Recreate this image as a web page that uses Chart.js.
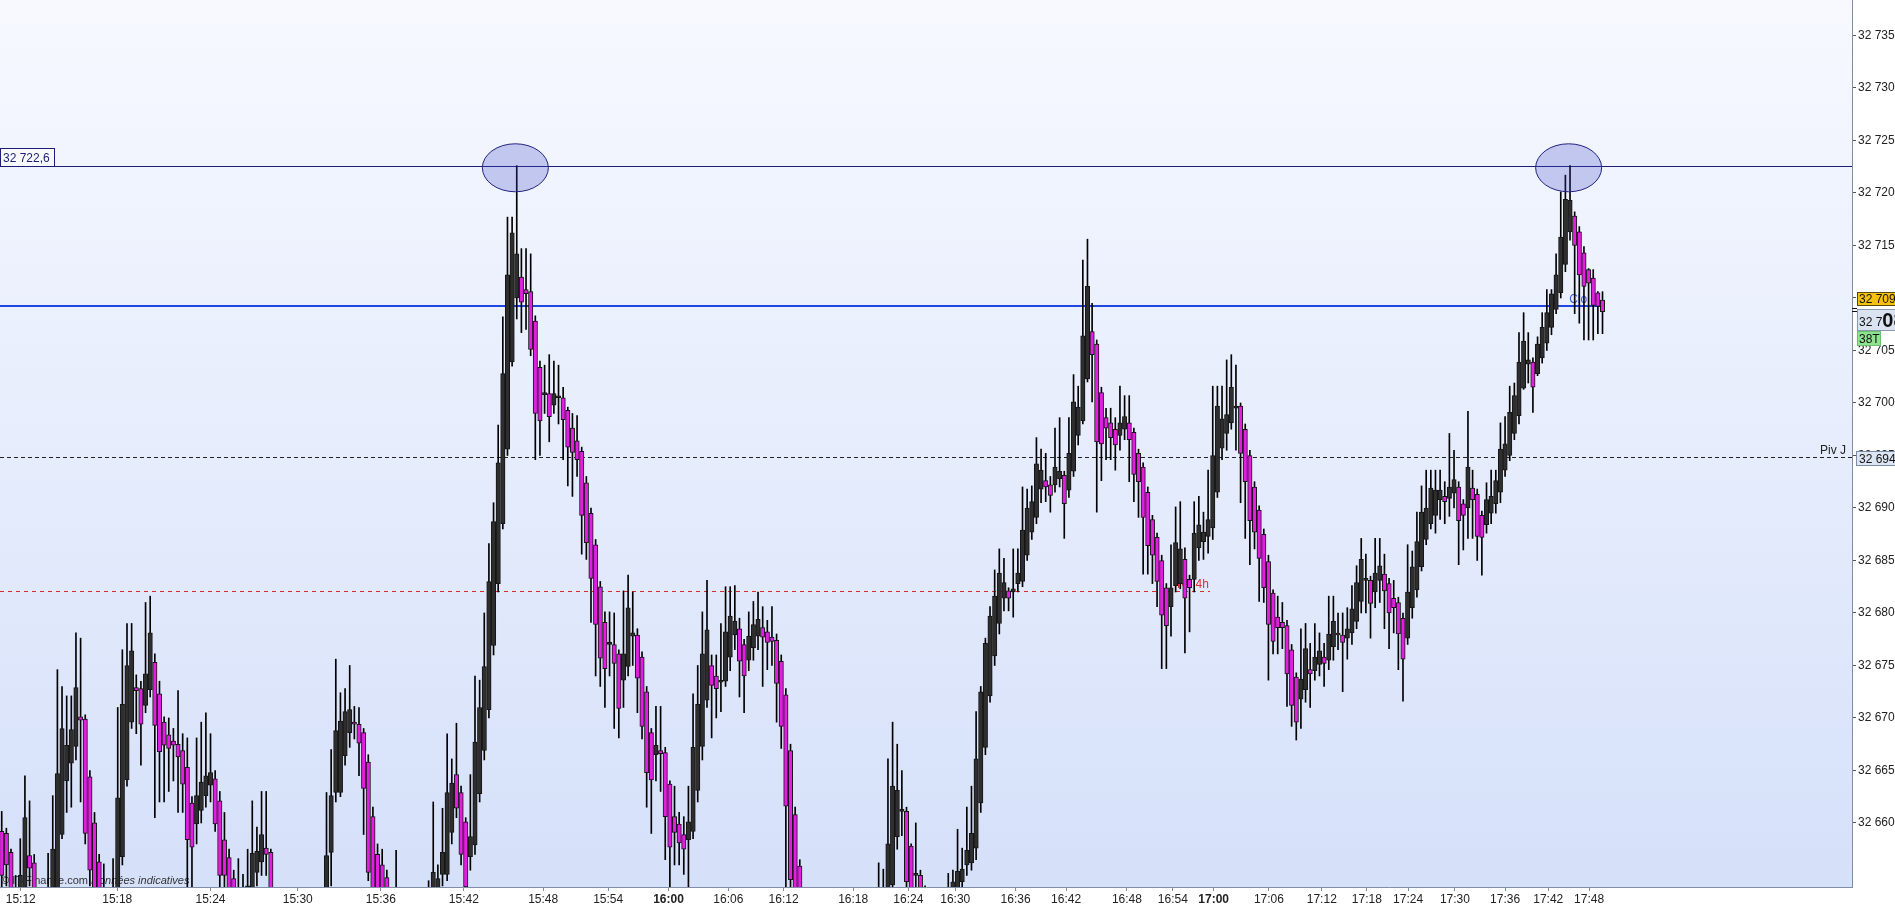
<!DOCTYPE html>
<html>
<head>
<meta charset="utf-8">
<script src="https://cdn.jsdelivr.net/npm/chart.js@4.4.1/dist/chart.umd.min.js"></script>
<style>
  html, body { margin: 0; padding: 0; background: #fff; }
  #wrap { width: 1895px; height: 906px; }
</style>
</head>
<body>
<div id="wrap"><canvas id="myChart" width="1895" height="906"></canvas></div>
<script>
// tick bars (38T), one value per bar
const opens = [
  32659.2, 32659.0, 32657.2, 32651.0, 32652.0, 32652.0, 32656.9, 32656.2, 32652.0, 32650.0,
  32650.0, 32651.0, 32653.6, 32658.9, 32664.0, 32665.7, 32667.3, 32670.1, 32669.9, 32664.4,
  32660.0, 32656.3, 32651.0, 32650.0, 32650.0, 32652.0, 32656.8, 32664.1, 32669.6, 32672.9,
  32672.8, 32671.2, 32672.7, 32675.3, 32672.3, 32669.6, 32668.4, 32667.8, 32667.5, 32666.9,
  32665.3, 32661.9, 32659.9, 32661.2, 32662.6, 32663.6, 32664.2, 32662.1, 32658.4, 32656.7,
  32654.7, 32652.0, 32652.5, 32652.0, 32653.0, 32655.3, 32656.3, 32657.6, 32657.2, 32651.0,
  32648.0, 32646.0, 32647.5, 32645.0, 32646.5, 32644.5, 32646.0, 32648.0, 32647.0, 32649.5,
  32652.0, 32657.2, 32662.9, 32662.9, 32666.4, 32668.6, 32669.6, 32669.4, 32668.6, 32665.8,
  32660.6, 32657.0, 32656.0, 32654.8, 32652.0, 32651.0, 32651.5, 32650.5, 32649.5, 32650.5,
  32649.0, 32650.0, 32651.5, 32653.0, 32653.5, 32655.1, 32655.1, 32659.1, 32664.6, 32662.9,
  32660.1, 32656.8, 32657.9, 32662.8, 32666.9, 32670.8, 32676.9, 32682.8, 32688.5, 32695.6,
  32703.9, 32710.0, 32712.0, 32710.8, 32710.6, 32707.8, 32703.4, 32700.8, 32700.9, 32699.8,
  32700.5, 32700.5, 32699.3, 32697.6, 32696.4, 32695.4, 32692.4, 32689.5, 32686.5, 32682.5,
  32679.1, 32677.0, 32677.0, 32676.1, 32673.6, 32674.9, 32677.8, 32677.9, 32675.8, 32672.5,
  32668.6, 32666.5, 32666.9, 32666.7, 32663.7, 32660.6, 32659.9, 32658.9, 32658.4, 32659.2,
  32663.1, 32667.3, 32671.7, 32675.0, 32674.0, 32673.4, 32673.5, 32675.8, 32677.9, 32678.5,
  32677.0, 32675.5, 32676.7, 32677.8, 32678.6, 32678.2, 32677.7, 32677.4, 32675.4, 32672.2,
  32666.9, 32660.8, 32655.9, 32652.5, 32650.0, 32648.0, 32649.0, 32646.5, 32645.0, 32646.5,
  32644.0, 32645.5, 32643.5, 32645.0, 32647.0, 32646.0, 32648.0, 32649.5, 32648.5, 32652.0,
  32652.5, 32653.6, 32654.1, 32658.7, 32661.1, 32661.1, 32657.8, 32655.0, 32655.0, 32653.5,
  32651.0, 32649.5, 32650.5, 32649.0, 32653.0, 32653.0, 32653.0, 32654.4, 32656.0, 32656.2,
  32657.6, 32661.9, 32667.2, 32672.1, 32675.9, 32679.0, 32681.4, 32682.1, 32682.0, 32682.8,
  32683.0, 32685.5, 32687.7, 32689.1, 32691.8, 32692.6, 32692.2, 32692.2, 32692.8, 32693.1,
  32691.7, 32693.5, 32696.9, 32698.3, 32702.3, 32706.8, 32705.6, 32701.0, 32698.6, 32698.1,
  32697.5, 32696.9, 32697.5, 32698.1, 32697.2, 32695.2, 32693.9, 32691.5, 32688.9, 32687.2,
  32685.0, 32682.4, 32680.6, 32682.6, 32682.8, 32685.1, 32683.2, 32683.2, 32686.2, 32686.8,
  32687.3, 32688.1, 32691.5, 32695.7, 32697.1, 32698.1, 32699.5, 32699.7, 32697.5, 32695.0,
  32692.0, 32689.8, 32687.5, 32684.9, 32681.9, 32679.6, 32679.1, 32678.8, 32676.5, 32673.9,
  32671.8, 32672.7, 32674.6, 32674.5, 32675.1, 32675.8, 32675.5, 32676.8, 32678.0, 32677.9,
  32677.6, 32678.1, 32679.2, 32681.1, 32683.1, 32683.1, 32682.0, 32683.1, 32683.7, 32682.8,
  32681.4, 32681.0, 32679.5, 32677.6, 32680.5, 32682.2, 32684.4, 32687.0, 32688.5, 32689.3,
  32690.8, 32691.1, 32690.9, 32691.4, 32692.0, 32690.4, 32690.0, 32691.9, 32691.3, 32689.3,
  32688.4, 32689.5, 32690.4, 32691.5, 32693.6, 32695.0, 32697.1, 32698.8, 32701.4, 32703.7,
  32703.9, 32702.8, 32704.3, 32705.7, 32707.2, 32708.9, 32710.5, 32713.2, 32716.3, 32717.8,
  32716.3, 32714.3, 32712.7, 32711.9, 32710.5, 32709.8
];
const highs = [
  32661.1, 32659.5, 32657.5, 32655.0, 32658.5, 32664.5, 32662.1, 32657.0, 32653.0, 32652.0,
  32657.1, 32662.6, 32674.6, 32673.0, 32672.1, 32672.1, 32678.1, 32677.6, 32670.3, 32665.0,
  32661.0, 32657.0, 32656.1, 32652.0, 32656.6, 32671.0, 32676.5, 32679.0, 32679.0, 32674.1,
  32673.5, 32681.0, 32681.6, 32676.1, 32673.5, 32670.1, 32670.0, 32669.0, 32672.6, 32668.5,
  32668.1, 32662.5, 32668.1, 32669.6, 32670.5, 32668.5, 32665.0, 32663.0, 32661.0, 32657.5,
  32655.5, 32656.6, 32655.1, 32657.5, 32662.1, 32659.6, 32663.0, 32663.0, 32657.5, 32652.5,
  32649.0, 32649.0, 32648.0, 32648.0, 32647.0, 32647.5, 32649.5, 32650.0, 32651.0, 32653.0,
  32662.9, 32667.0, 32675.6, 32672.4, 32672.8, 32675.0, 32671.1, 32671.0, 32669.0, 32666.5,
  32661.5, 32658.0, 32657.5, 32655.5, 32653.0, 32657.4, 32653.0, 32652.0, 32652.0, 32651.5,
  32652.0, 32653.0, 32654.5, 32662.0, 32656.0, 32661.4, 32668.5, 32666.1, 32669.5, 32663.5,
  32660.5, 32664.6, 32674.0, 32673.6, 32680.0, 32686.6, 32690.5, 32697.9, 32708.2, 32717.7,
  32717.7, 32722.6, 32714.7, 32714.7, 32714.2, 32708.3, 32704.0, 32703.6, 32704.6, 32704.0,
  32703.6, 32701.5, 32699.6, 32699.0, 32698.8, 32695.8, 32693.0, 32690.0, 32687.0, 32683.0,
  32680.1, 32680.1, 32680.0, 32676.5, 32682.1, 32683.6, 32682.0, 32678.5, 32676.3, 32673.0,
  32669.0, 32671.1, 32671.1, 32667.2, 32664.0, 32663.5, 32661.0, 32660.6, 32663.5, 32672.3,
  32675.0, 32680.1, 32683.1, 32676.0, 32676.0, 32679.0, 32682.5, 32682.5, 32682.6, 32679.5,
  32677.5, 32680.1, 32681.1, 32682.0, 32680.6, 32679.3, 32680.6, 32678.0, 32676.0, 32672.8,
  32667.5, 32661.5, 32656.5, 32653.0, 32651.0, 32650.5, 32649.5, 32647.5, 32648.0, 32647.0,
  32647.0, 32646.0, 32646.5, 32648.5, 32648.0, 32649.5, 32651.0, 32651.0, 32652.5, 32656.2,
  32655.6, 32666.1, 32669.6, 32667.5, 32665.0, 32661.5, 32658.0, 32660.0, 32655.5, 32654.0,
  32652.0, 32652.0, 32651.5, 32653.5, 32655.2, 32655.5, 32659.4, 32657.6, 32661.5, 32663.5,
  32670.6, 32673.0, 32677.6, 32680.6, 32684.1, 32686.1, 32685.2, 32682.4, 32686.1, 32686.1,
  32692.0, 32691.8, 32692.1, 32696.7, 32695.6, 32695.2, 32693.0, 32697.6, 32698.6, 32693.5,
  32698.6, 32702.7, 32701.6, 32713.6, 32715.6, 32709.5, 32706.0, 32701.5, 32699.5, 32699.5,
  32698.6, 32701.6, 32700.7, 32700.7, 32697.6, 32695.6, 32694.3, 32692.0, 32689.3, 32687.6,
  32685.5, 32682.8, 32686.5, 32690.1, 32690.6, 32686.2, 32683.6, 32690.6, 32691.1, 32689.6,
  32693.6, 32701.6, 32701.6, 32701.6, 32704.1, 32704.6, 32703.6, 32700.0, 32698.0, 32695.5,
  32692.5, 32690.2, 32688.0, 32685.5, 32682.2, 32681.6, 32681.0, 32679.3, 32677.0, 32674.3,
  32678.5, 32679.0, 32677.1, 32679.0, 32678.1, 32677.1, 32681.6, 32681.6, 32680.0, 32680.0,
  32680.5, 32682.6, 32684.5, 32687.1, 32685.6, 32683.5, 32687.1, 32687.1, 32685.6, 32683.3,
  32683.1, 32681.5, 32680.0, 32686.5, 32685.9, 32689.6, 32692.1, 32693.6, 32693.6, 32693.6,
  32693.6, 32692.5, 32697.1, 32695.5, 32692.5, 32690.8, 32699.2, 32693.6, 32691.8, 32689.7,
  32692.4, 32693.6, 32693.6, 32698.1, 32698.7, 32701.6, 32701.9, 32706.7, 32708.6, 32706.7,
  32704.3, 32706.3, 32708.6, 32710.8, 32710.8, 32714.2, 32720.1, 32721.7, 32722.6, 32718.2,
  32716.8, 32714.9, 32712.8, 32712.7, 32710.6, 32710.6
];
const lows = [
  32652.0, 32654.0, 32650.0, 32649.0, 32650.0, 32651.0, 32654.0, 32650.0, 32648.0, 32648.0,
  32649.0, 32650.0, 32652.0, 32658.5, 32661.0, 32661.5, 32666.0, 32662.0, 32658.0, 32654.0,
  32651.0, 32649.0, 32648.0, 32647.0, 32649.0, 32651.0, 32656.0, 32663.5, 32669.0, 32668.5,
  32665.5, 32670.5, 32672.0, 32660.5, 32662.0, 32662.0, 32663.0, 32664.0, 32661.0, 32661.0,
  32653.9, 32653.6, 32658.0, 32660.0, 32661.5, 32662.0, 32659.2, 32652.0, 32653.0, 32651.0,
  32650.0, 32650.0, 32650.0, 32650.0, 32652.0, 32654.0, 32655.0, 32655.0, 32651.0, 32646.0,
  32644.0, 32645.0, 32643.0, 32644.0, 32643.0, 32643.5, 32645.0, 32646.0, 32646.0, 32648.5,
  32650.0, 32654.0, 32662.0, 32662.5, 32665.5, 32667.2, 32668.0, 32664.5, 32658.9, 32654.5,
  32651.0, 32650.0, 32651.0, 32650.0, 32649.0, 32649.0, 32648.0, 32647.0, 32647.0, 32647.0,
  32647.5, 32648.0, 32650.0, 32651.0, 32652.0, 32654.0, 32654.5, 32658.0, 32660.5, 32656.0,
  32652.0, 32655.5, 32657.0, 32662.0, 32666.0, 32670.0, 32676.0, 32682.0, 32688.0, 32695.0,
  32703.5, 32708.0, 32706.7, 32707.0, 32704.5, 32694.6, 32695.0, 32699.0, 32696.3, 32699.0,
  32698.0, 32694.6, 32692.1, 32691.1, 32693.0, 32685.6, 32685.1, 32679.1, 32674.0, 32673.0,
  32671.0, 32674.0, 32669.0, 32668.1, 32671.0, 32674.0, 32675.0, 32670.5, 32668.0, 32661.5,
  32659.0, 32664.0, 32663.0, 32656.5, 32653.6, 32656.0, 32656.0, 32655.1, 32653.6, 32658.5,
  32662.0, 32666.0, 32671.0, 32668.1, 32670.0, 32670.6, 32673.0, 32674.5, 32676.5, 32672.0,
  32670.5, 32674.5, 32675.5, 32676.5, 32673.0, 32674.6, 32675.0, 32669.6, 32667.1, 32653.9,
  32652.0, 32651.0, 32651.0, 32649.0, 32647.0, 32647.0, 32645.0, 32644.0, 32644.0, 32643.0,
  32643.0, 32642.0, 32642.5, 32644.0, 32645.0, 32645.0, 32647.0, 32647.5, 32648.0, 32650.0,
  32651.0, 32652.0, 32653.0, 32657.5, 32658.8, 32653.0, 32652.0, 32653.0, 32652.0, 32650.0,
  32648.0, 32648.5, 32648.0, 32648.0, 32651.0, 32652.0, 32652.0, 32653.5, 32655.0, 32655.5,
  32656.5, 32661.0, 32666.5, 32671.5, 32675.0, 32678.0, 32680.2, 32680.2, 32679.6, 32682.0,
  32682.5, 32685.0, 32687.0, 32688.5, 32690.5, 32690.6, 32689.6, 32691.5, 32692.0, 32687.1,
  32691.0, 32693.0, 32696.0, 32698.0, 32702.0, 32700.1, 32689.6, 32692.6, 32694.6, 32694.6,
  32693.6, 32695.5, 32696.5, 32692.5, 32690.6, 32689.1, 32683.7, 32683.7, 32682.8, 32680.6,
  32674.7, 32674.7, 32677.8, 32682.0, 32682.3, 32676.2, 32678.2, 32682.0, 32685.0, 32685.1,
  32685.7, 32687.0, 32691.0, 32694.6, 32695.5, 32697.5, 32695.5, 32690.5, 32687.1, 32684.6,
  32686.1, 32681.1, 32681.0, 32673.6, 32676.1, 32676.1, 32676.6, 32671.1, 32669.2, 32667.9,
  32669.0, 32671.5, 32671.0, 32673.6, 32674.0, 32673.0, 32674.6, 32675.5, 32676.5, 32672.5,
  32675.6, 32677.0, 32678.5, 32680.0, 32680.0, 32677.6, 32680.5, 32681.0, 32678.5, 32676.6,
  32678.1, 32674.6, 32671.6, 32677.0, 32679.5, 32681.5, 32684.0, 32686.5, 32688.0, 32687.6,
  32688.9, 32688.5, 32689.2, 32690.0, 32684.6, 32686.0, 32687.1, 32687.1, 32685.0, 32683.6,
  32687.6, 32688.5, 32689.5, 32690.5, 32693.0, 32694.5, 32696.5, 32698.0, 32701.3, 32701.9,
  32699.1, 32702.6, 32703.8, 32705.0, 32706.5, 32708.5, 32710.0, 32712.5, 32715.5, 32708.5,
  32707.6, 32706.0, 32706.0, 32706.0, 32706.6, 32706.6
];
const closes = [
  32655.0, 32656.0, 32652.0, 32653.5, 32655.0, 32660.5, 32655.7, 32652.0, 32650.0, 32651.0,
  32653.0, 32657.5, 32664.7, 32669.0, 32667.4, 32668.9, 32672.9, 32669.8, 32659.0, 32655.5,
  32652.5, 32651.0, 32650.0, 32649.0, 32653.0, 32662.4, 32671.3, 32675.0, 32676.4, 32672.6,
  32669.4, 32674.2, 32678.1, 32669.3, 32666.8, 32667.4, 32667.1, 32667.4, 32666.3, 32663.7,
  32658.4, 32657.7, 32662.6, 32663.9, 32664.5, 32664.8, 32659.9, 32655.0, 32655.0, 32652.5,
  32652.0, 32653.0, 32652.0, 32654.0, 32657.1, 32657.3, 32658.9, 32657.0, 32653.0, 32648.0,
  32646.0, 32647.5, 32645.0, 32646.5, 32644.5, 32646.0, 32648.0, 32647.0, 32649.5, 32652.0,
  32656.9, 32662.6, 32668.8, 32669.7, 32670.6, 32670.8, 32669.4, 32667.6, 32663.3, 32655.3,
  32652.5, 32652.0, 32653.0, 32652.5, 32651.0, 32652.0, 32650.5, 32649.5, 32650.5, 32649.0,
  32650.0, 32651.5, 32653.0, 32655.3, 32654.7, 32657.2, 32662.9, 32663.8, 32661.4, 32657.0,
  32653.9, 32658.7, 32667.7, 32671.0, 32674.9, 32683.0, 32688.7, 32694.3, 32702.8, 32712.2,
  32716.2, 32714.2, 32709.6, 32710.4, 32705.1, 32699.0, 32698.3, 32701.0, 32698.7, 32700.9,
  32700.6, 32698.4, 32695.8, 32695.3, 32694.6, 32689.3, 32686.7, 32683.3, 32678.9, 32675.7,
  32674.7, 32677.2, 32675.2, 32670.9, 32676.1, 32680.5, 32678.1, 32673.8, 32669.2, 32664.8,
  32664.1, 32667.4, 32666.6, 32660.6, 32657.7, 32659.1, 32658.1, 32657.5, 32660.1, 32667.2,
  32671.3, 32676.1, 32678.4, 32673.1, 32672.8, 32673.5, 32678.2, 32679.7, 32679.2, 32675.4,
  32674.0, 32677.8, 32678.9, 32679.4, 32677.7, 32677.2, 32677.3, 32673.3, 32669.2, 32661.6,
  32654.6, 32652.5, 32653.0, 32650.0, 32648.0, 32649.0, 32646.5, 32645.0, 32646.5, 32644.0,
  32645.5, 32643.5, 32645.0, 32647.0, 32646.0, 32648.0, 32649.5, 32648.5, 32651.0, 32653.0,
  32653.5, 32658.0, 32663.5, 32663.1, 32661.3, 32654.4, 32653.6, 32655.2, 32653.5, 32651.0,
  32649.5, 32650.5, 32649.0, 32652.0, 32652.5, 32654.4, 32655.4, 32655.6, 32657.4, 32659.0,
  32666.1, 32672.5, 32677.1, 32679.7, 32681.6, 32683.8, 32682.9, 32681.4, 32682.3, 32683.8,
  32687.9, 32690.0, 32690.6, 32694.2, 32693.6, 32692.0, 32691.2, 32693.9, 32693.5, 32690.4,
  32695.2, 32700.1, 32699.6, 32706.4, 32711.1, 32704.6, 32696.3, 32696.1, 32697.6, 32696.7,
  32696.0, 32698.1, 32698.7, 32696.5, 32693.2, 32692.5, 32689.1, 32686.4, 32685.5, 32683.0,
  32679.8, 32678.8, 32682.4, 32686.7, 32686.1, 32681.4, 32682.4, 32687.6, 32688.4, 32687.7,
  32688.9, 32695.0, 32699.7, 32698.5, 32698.9, 32701.5, 32699.7, 32695.2, 32692.5, 32688.8,
  32687.7, 32685.2, 32682.4, 32678.9, 32677.3, 32678.6, 32678.6, 32674.2, 32671.2, 32669.6,
  32673.7, 32676.6, 32674.2, 32675.8, 32676.4, 32675.2, 32678.0, 32679.2, 32677.9, 32677.2,
  32678.5, 32680.4, 32682.9, 32685.1, 32683.2, 32680.9, 32683.8, 32684.5, 32682.1, 32680.0,
  32680.5, 32678.0, 32675.6, 32682.0, 32684.4, 32686.8, 32689.6, 32690.0, 32691.9, 32691.7,
  32691.7, 32690.6, 32692.0, 32692.7, 32688.8, 32689.3, 32693.9, 32690.8, 32687.3, 32687.2,
  32690.8, 32691.1, 32692.6, 32695.6, 32696.1, 32699.1, 32700.7, 32703.9, 32705.9, 32704.1,
  32701.5, 32705.6, 32707.2, 32708.6, 32710.4, 32712.2, 32715.8, 32719.4, 32719.3, 32715.0,
  32712.2, 32711.1, 32711.4, 32709.3, 32709.2, 32708.7
];

// time labels on the bar axis (bar position where each time falls)
const timePos = [4.1, 24.9, 45.0, 63.8, 81.7, 99.6, 116.7, 130.7, 143.7, 156.6, 168.5, 183.5, 195.4, 205.5,
                 218.5, 229.4, 242.5, 252.4, 261.2, 273.1, 284.5, 294.2, 303.1, 313.2, 324.0, 333.3, 342.1];
const timeLabels = ['15:12', '15:18', '15:24', '15:30', '15:36', '15:42', '15:48', '15:54', '16:00', '16:06',
                    '16:12', '16:18', '16:24', '16:30', '16:36', '16:42', '16:48', '16:54', '17:00', '17:06',
                    '17:12', '17:18', '17:24', '17:30', '17:36', '17:42', '17:48'];
const boldTimes = ['16:00', '17:00'];

// levels
const resistance = 32722.6;
const closeJ = 32709.2;
const pivotJ = 32694.9;
const r1h4 = 32682.1;
const r1End = 260.4;   // bar where the R1 4h line stops
const circledBars = [111, 338];
const barsLabel = '38T';

const UP = '#2e2e2e', DOWN = '#e21ee0';
const n = closes.length;
const idx = [...Array(n).keys()];

function fmt(v) {
  const i = Math.floor(v);
  return Math.floor(i / 1000) + ' ' + String(i % 1000).padStart(3, '0');
}

const FONT = "'Liberation Sans', Arial, sans-serif";
Chart.defaults.font.family = FONT;
Chart.defaults.font.size = 12;
Chart.defaults.color = '#222';

const bgPlugin = {
  id: 'bg',
  beforeDraw(chart) {
    const {ctx, chartArea: a, width, height} = chart;
    ctx.save();
    ctx.fillStyle = '#ffffff';
    ctx.fillRect(0, 0, width, height);
    const g = ctx.createLinearGradient(0, a.top, 0, a.bottom);
    g.addColorStop(0, '#f7f9ff');
    g.addColorStop(1, '#d5e0f9');
    ctx.fillStyle = g;
    ctx.fillRect(a.left, a.top, a.right - a.left, a.bottom - a.top);
    ctx.restore();
  }
};

function hline(ctx, x0, x1, y, color, w, dash) {
  ctx.save();
  ctx.strokeStyle = color;
  ctx.lineWidth = w;
  ctx.setLineDash(dash || []);
  const yy = w % 2 ? Math.round(y) + 0.5 : Math.round(y);
  ctx.beginPath();
  ctx.moveTo(x0, yy);
  ctx.lineTo(x1, yy);
  ctx.stroke();
  ctx.restore();
}

const levelsPlugin = {
  id: 'levels',
  beforeDatasetsDraw(chart) {
    const {ctx, chartArea: a, scales: {x, y}} = chart;
    const xr = x.getPixelForValue(r1End);
    const xc = x.getPixelForValue(n - 1);
    hline(ctx, a.left, xr, y.getPixelForValue(r1h4), '#d42a2a', 1, [4, 4]);
    hline(ctx, a.left, a.right, y.getPixelForValue(pivotJ), '#222', 1, [4, 3]);
    hline(ctx, a.left, xc, y.getPixelForValue(closeJ), '#1f48e2', 2);
    hline(ctx, a.left, a.right, y.getPixelForValue(resistance), '#1d1d78', 1);

    ctx.save();
    ctx.font = '12px ' + FONT;
    ctx.textBaseline = 'alphabetic';
    ctx.textAlign = 'right';
    ctx.fillStyle = '#3a5ae0';
    ctx.fillText('Clo J', xc - 6, y.getPixelForValue(closeJ) - 3);
    ctx.fillStyle = '#e03030';
    ctx.fillText('R1 4h', xr - 1, y.getPixelForValue(r1h4) - 3);
    // watermark
    ctx.textAlign = 'left';
    ctx.fillStyle = '#333';
    ctx.font = '11px ' + FONT;
    const t1 = '\u00a9 IT-Finance.com ';
    ctx.fillText(t1, 1, a.bottom - 3);
    const w1 = ctx.measureText(t1).width;
    ctx.font = 'italic 11px ' + FONT;
    ctx.fillText('Donn\u00e9es indicatives', 1 + w1, a.bottom - 3);
    ctx.restore();
  }
};

const overlayPlugin = {
  id: 'overlay',
  afterDatasetsDraw(chart) {
    const {ctx, scales: {x, y}} = chart;
    ctx.save();
    circledBars.forEach(i => {
      const cx = x.getPixelForValue(i - 0.3);
      const cy = y.getPixelForValue(highs[i] - 0.2);
      ctx.beginPath();
      ctx.ellipse(cx, cy, 33, 24, 0, 0, Math.PI * 2);
      ctx.fillStyle = 'rgba(60,70,200,0.26)';
      ctx.fill();
      ctx.strokeStyle = '#23237e';
      ctx.lineWidth = 1;
      ctx.stroke();
    });
    ctx.restore();
  },
  afterDraw(chart) {
    const {ctx, chartArea: a, scales: {y}} = chart;
    const L = a.right + 5;
    ctx.save();
    ctx.font = '12px ' + FONT;
    ctx.textBaseline = 'alphabetic';

    // left level box
    const yr = Math.round(y.getPixelForValue(resistance));
    ctx.fillStyle = '#f8faff';
    ctx.fillRect(0.5, yr - 17.5, 54, 18);
    ctx.strokeStyle = '#1d1d78';
    ctx.lineWidth = 1;
    ctx.strokeRect(0.5, yr - 17.5, 54, 18);
    ctx.fillStyle = '#1d1d78';
    ctx.fillText(fmt(resistance) + ',' + Math.round((resistance % 1) * 10), 3, yr - 4);

    // close J box
    const yc = Math.round(y.getPixelForValue(closeJ));
    ctx.fillStyle = '#f4c20d';
    ctx.fillRect(L + 0.5, yc - 13.5, 45, 13);
    ctx.strokeStyle = '#5a4a10';
    ctx.strokeRect(L + 0.5, yc - 13.5, 45, 13);
    ctx.fillStyle = '#111';
    ctx.fillText(fmt(closeJ), L + 2, yc - 3);

    // last price box
    const last = closes[n - 1];
    const yl = Math.round(y.getPixelForValue(last));
    ctx.strokeStyle = '#111';
    ctx.beginPath();
    ctx.moveTo(a.right, yl - 3.5); ctx.lineTo(L, yl - 3.5);
    ctx.moveTo(a.right, yl - 0.5); ctx.lineTo(L, yl - 0.5);
    ctx.stroke();
    ctx.fillStyle = '#dbe3f0';
    ctx.fillRect(L + 0.5, yl - 2.5, 45, 21);
    ctx.strokeStyle = '#8a9ab3';
    ctx.strokeRect(L + 0.5, yl - 2.5, 45, 21);
    const s = fmt(last);
    ctx.fillStyle = '#111';
    ctx.fillText(s.slice(0, 4), L + 2, yl + 14);
    const w = ctx.measureText(s.slice(0, 4)).width;
    ctx.font = 'bold 20px ' + FONT;
    ctx.fillText(s.slice(4), L + 2 + w, yl + 15);

    // bar type box
    ctx.font = '12px ' + FONT;
    ctx.fillStyle = '#8fe28f';
    ctx.fillRect(L + 0.5, yl + 19.5, 23, 14);
    ctx.strokeStyle = '#6cbf6c';
    ctx.strokeRect(L + 0.5, yl + 19.5, 23, 14);
    ctx.fillStyle = '#111';
    ctx.fillText(barsLabel, L + 2, yl + 31);

    // pivot box + label
    const yp = Math.round(y.getPixelForValue(pivotJ));
    ctx.fillStyle = '#dde5f2';
    ctx.fillRect(L - 0.5, yp - 5.5, 45, 14);
    ctx.strokeStyle = '#7d8ca6';
    ctx.strokeRect(L - 0.5, yp - 5.5, 45, 14);
    ctx.fillStyle = '#111';
    ctx.fillText(fmt(pivotJ), L + 2, yp + 6);
    ctx.textAlign = 'right';
    ctx.fillStyle = '#222';
    ctx.fillText('Piv J', a.right - 6, yp - 3);
    ctx.restore();
  }
};

const config = {
  type: 'bar',
  data: {
    datasets: [
      {
        label: 'wick',
        data: idx.map(i => ({x: i, y: [lows[i], highs[i]]})),
        backgroundColor: '#000',
        barThickness: 1,
        grouped: false,
        order: 2,
      },
      {
        label: 'body',
        data: idx.map(i => ({x: i, y: [opens[i], closes[i]]})),
        backgroundColor: idx.map(i => closes[i] >= opens[i] ? UP : DOWN),
        borderColor: '#151515',
        borderWidth: 1,
        borderSkipped: false,
        barThickness: 4.4,
        minBarLength: 2,
        grouped: false,
        order: 1,
      },
    ],
  },
  options: {
    responsive: false,
    devicePixelRatio: 1,
    animation: false,
    layout: {padding: 0},
    plugins: {legend: {display: false}, tooltip: {enabled: false}},
    scales: {
      x: {
        type: 'linear',
        position: 'bottom',
        min: -0.37,
        max: 398.77,
        offset: false,
        grid: {offset: false, drawOnChartArea: false, tickLength: 4, color: '#7f8da6'},
        border: {color: '#7f8da6'},
        ticks: {
          autoSkip: false,
          maxRotation: 0,
          padding: 1,
          color: '#222',
          callback: (v, i) => timeLabels[i],
          font: c => ({size: 12, weight: boldTimes.includes(timeLabels[c.index]) ? 'bold' : 'normal'}),
        },
        afterBuildTicks: s => { s.ticks = timePos.map(v => ({value: v})); },
        afterFit: s => { s.height = 19; s.paddingLeft = 0; s.paddingRight = 0; },
      },
      y: {
        type: 'linear',
        position: 'right',
        min: 32653.9,
        max: 32738.38,
        beginAtZero: false,
        grid: {drawOnChartArea: false, tickLength: 4, color: '#555'},
        border: {color: '#7f8da6'},
        ticks: {
          stepSize: 5,
          includeBounds: false,
          padding: 2,
          color: '#222',
          callback: v => fmt(v),
        },
        afterBuildTicks: s => { s.ticks = s.ticks.filter(t => t.value >= 32658); },
        afterFit: s => { s.width = 43; s.paddingTop = 0; s.paddingBottom = 0; },
      },
    },
  },
  plugins: [bgPlugin, levelsPlugin, overlayPlugin],
};

const myChart = new Chart(document.getElementById('myChart'), config);
</script>
</body>
</html>
